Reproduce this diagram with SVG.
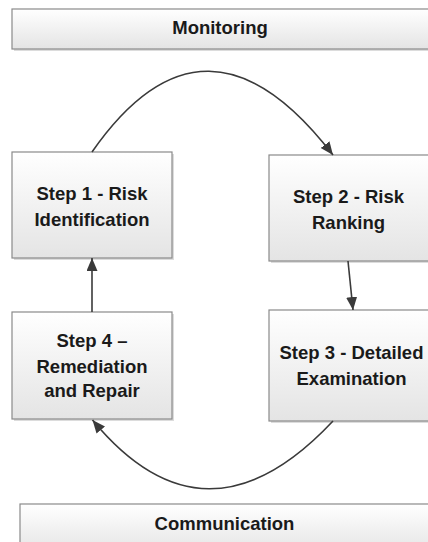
<svg xmlns="http://www.w3.org/2000/svg" width="428" height="542" viewBox="0 0 428 542">
  <defs>
    <linearGradient id="g" x1="0" y1="0" x2="0" y2="1">
      <stop offset="0" stop-color="#ffffff"/>
      <stop offset="1" stop-color="#e4e4e4"/>
    </linearGradient>
    <marker id="ah" markerUnits="userSpaceOnUse" markerWidth="14" markerHeight="12" refX="13" refY="5.5" orient="auto">
      <path d="M0,0 L13,5.5 L0,11 z" fill="#3a3a3a"/>
    </marker>
    <style>
      .box { fill: url(#g); stroke: #8a8a8a; stroke-width: 1.2; }
      .sh { fill: #c4c4c4; opacity: 0.6; }
      .t { font-family: "Liberation Sans", Arial, sans-serif; font-weight: bold; font-size: 18.5px; fill: #1a1a1a; text-anchor: middle; }
      .c { fill: none; stroke: #3a3a3a; stroke-width: 1.6; marker-end: url(#ah); }
    </style>
  </defs>
  <rect width="428" height="542" fill="#ffffff"/>

  <g id="monitoring">
    <rect class="sh" x="14" y="11" width="430" height="40"/>
    <rect class="box" x="12" y="9" width="430" height="40"/>
    <text class="t" x="220" y="34">Monitoring</text>
  </g>

  <g id="step1">
    <rect class="sh" x="14" y="154" width="160" height="106"/>
    <rect class="box" x="12" y="152" width="160" height="106"/>
    <text class="t" x="92" y="200">Step 1 - Risk</text>
    <text class="t" x="92" y="226">Identification</text>
  </g>

  <g id="step2">
    <rect class="sh" x="271" y="157" width="170" height="106"/>
    <rect class="box" x="269" y="155" width="170" height="106"/>
    <text class="t" x="348.5" y="203">Step 2 - Risk</text>
    <text class="t" x="348.5" y="229">Ranking</text>
  </g>

  <g id="step4">
    <rect class="sh" x="14" y="314" width="160" height="107"/>
    <rect class="box" x="12" y="312" width="160" height="107"/>
    <text class="t" x="92" y="347">Step 4 –</text>
    <text class="t" x="92" y="373">Remediation</text>
    <text class="t" x="92" y="397">and Repair</text>
  </g>

  <g id="step3">
    <rect class="sh" x="271" y="312" width="170" height="111"/>
    <rect class="box" x="269" y="310" width="170" height="111"/>
    <text class="t" x="351.5" y="359">Step 3 - Detailed</text>
    <text class="t" x="351.5" y="385">Examination</text>
  </g>

  <g id="communication">
    <rect class="sh" x="22" y="506" width="430" height="50"/>
    <rect class="box" x="20" y="504" width="430" height="50"/>
    <text class="t" x="224.5" y="530">Communication</text>
  </g>

  <g id="connectors">
    <path class="c" d="M92,152 Q205.5,-11 333,155"/>
    <path class="c" d="M348,261 L353,310"/>
    <path class="c" d="M333,421 Q205.5,557 92.5,420"/>
    <path class="c" d="M92,312 L92,258"/>
  </g>
</svg>
